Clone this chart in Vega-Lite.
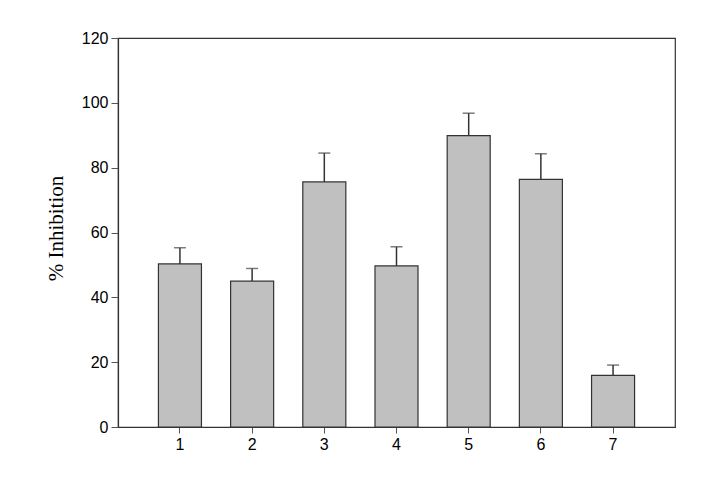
{
  "$schema": "https://vega.github.io/schema/vega-lite/v6.json",
  "autosize": "none",
  "padding": {"left": 118, "top": 38, "right": 26, "bottom": 65},
  "width": 557,
  "height": 389,
  "background": "white",
  "config": {
    "view": {"stroke": "#333333", "strokeWidth": 1.2},
    "axis": {"grid": false, "domainColor": "#333333", "tickColor": "#555555", "tickSize": 7, "labelFont": "Liberation Sans", "labelFontSize": 16, "labelColor": "#000000", "titleColor": "#000000"}
  },
  "data": {
    "values": [
      {"group": "1", "value": 50.3, "upper": 55.3},
      {"group": "2", "value": 45.0, "upper": 48.9},
      {"group": "3", "value": 75.6, "upper": 84.5},
      {"group": "4", "value": 49.7, "upper": 55.6},
      {"group": "5", "value": 89.9, "upper": 96.8},
      {"group": "6", "value": 76.4, "upper": 84.3},
      {"group": "7", "value": 15.9, "upper": 19.1}
    ]
  },
  "encoding": {
    "x": {
      "field": "group", "type": "ordinal",
      "scale": {"paddingInner": 0.404, "paddingOuter": 0.56},
      "axis": {"title": null, "labelAngle": 0, "labelPadding": 3, "tickSize": 6, "domainWidth": 1.2}
    }
  },
  "layer": [
    {
      "mark": {"type": "rule", "color": "#333333", "strokeWidth": 1.5},
      "encoding": {
        "y": {"field": "value", "type": "quantitative"},
        "y2": {"field": "upper"}
      }
    },
    {
      "mark": {"type": "tick", "color": "#444444", "size": 12, "thickness": 1.5},
      "encoding": {
        "y": {"field": "upper", "type": "quantitative"}
      }
    },
    {
      "mark": {"type": "bar", "fill": "#c0c0c0", "stroke": "#333333", "strokeWidth": 1.2},
      "encoding": {
        "y": {
          "field": "value", "type": "quantitative",
          "scale": {"domain": [0, 120], "nice": false},
          "axis": {"values": [0, 20, 40, 60, 80, 100, 120], "title": "% Inhibition", "titleFont": "Liberation Serif", "titleFontSize": 21, "titleFontWeight": "normal", "titlePadding": 15, "titleY": 190, "labelPadding": 3, "domainWidth": 1.2}
        }
      }
    }
  ]
}
